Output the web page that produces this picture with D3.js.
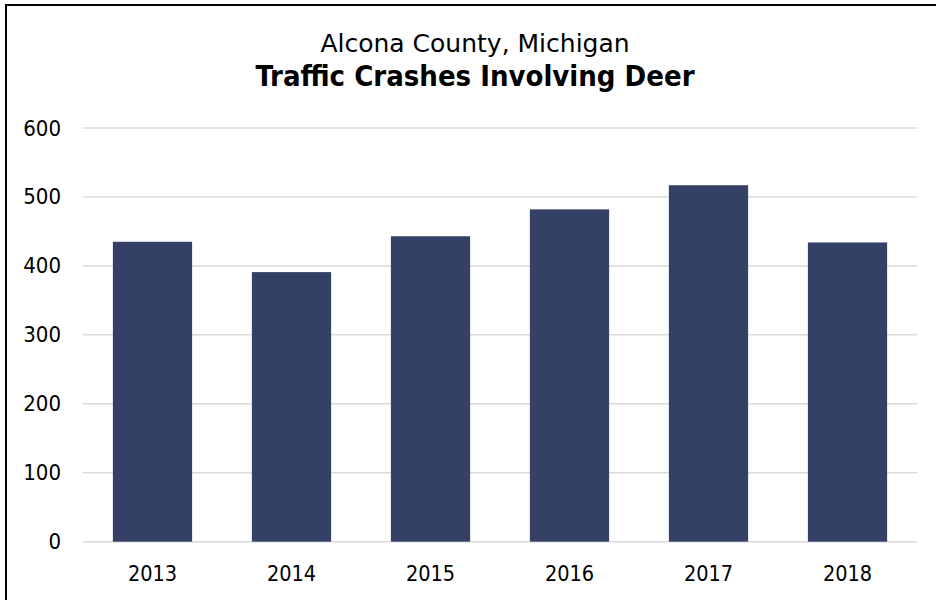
<!DOCTYPE html>
<html>
<head>
<meta charset="utf-8">
<script src="https://cdn.jsdelivr.net/npm/d3@7"></script>
<style>
  body { margin: 0; background: #fff; }
  svg text { font-family: "DejaVu Sans Condensed", "DejaVu Sans", sans-serif; fill: #000; }
</style>
</head>
<body>
<div class="mainbody"></div>
<script>
// data
var years = ["2013", "2014", "2015", "2016", "2017", "2018"];
var crashes = [435, 391, 443, 482, 517, 434];
var yTicks = [0, 100, 200, 300, 400, 500, 600];
var titleLine1 = "Alcona County, Michigan";
var titleLine2 = "Traffic Crashes Involving Deer";

(function() {
  var w = 936, h = 600;
  var plotLeft = 83, plotRight = 917, plotTop = 128, plotBottom = 541.7;
  var barColor = "#354067";

  var svg = d3.select(".mainbody")
    .append("svg")
    .attr("width", w)
    .attr("height", h);

  // frame (only top and left show in the picture)
  svg.append("rect")
    .attr("x", 6).attr("y", 5)
    .attr("width", 1000).attr("height", 1000)
    .attr("fill", "none")
    .attr("stroke", "#000")
    .attr("stroke-width", 2);

  var x = d3.scaleBand()
    .domain(years)
    .range([plotLeft, plotRight])
    .paddingInner(0.43)
    .paddingOuter(0.215);

  var y = d3.scaleLinear()
    .domain([0, 600])
    .range([plotBottom, plotTop]);

  // gridlines
  svg.append("g")
    .selectAll("line")
    .data(yTicks)
    .enter()
    .append("line")
    .attr("x1", plotLeft)
    .attr("x2", plotRight)
    .attr("y1", d => y(d))
    .attr("y2", d => y(d))
    .attr("stroke", "#d9d9d9")
    .attr("stroke-width", 1.5);

  // bars
  svg.append("g")
    .selectAll("rect")
    .data(crashes)
    .enter()
    .append("rect")
    .attr("x", (d, i) => x(years[i]))
    .attr("y", d => y(d))
    .attr("width", x.bandwidth())
    .attr("height", d => y(0) - y(d))
    .attr("fill", barColor);

  // y axis labels
  var yAxis = d3.axisLeft(y).tickValues(yTicks).tickSize(0).tickPadding(0);
  var gy = svg.append("g")
    .attr("transform", "translate(61,0)")
    .call(yAxis);
  gy.select(".domain").remove();
  gy.attr("font-family", null).attr("font-size", null);
  gy.selectAll("text")
    .attr("font-size", 22);

  // x axis labels
  var xAxis = d3.axisBottom(x).tickSize(0).tickPadding(0);
  var gx = svg.append("g")
    .attr("transform", "translate(0," + plotBottom + ")")
    .call(xAxis);
  gx.select(".domain").remove();
  gx.attr("font-family", null).attr("font-size", null);
  gx.selectAll("text")
    .attr("dy", null)
    .attr("y", 39.5)
    .attr("font-size", 21.5);

  // titles
  svg.append("text")
    .attr("x", 475)
    .attr("y", 51.7)
    .attr("text-anchor", "middle")
    .attr("font-size", 25)
    .style("font-family", "'DejaVu Sans', sans-serif")
    .text(titleLine1);

  svg.append("text")
    .attr("x", 475)
    .attr("y", 86)
    .attr("text-anchor", "middle")
    .attr("font-size", 29)
    .attr("font-weight", "bold")
    .text(titleLine2);
})();
</script>
</body>
</html>
